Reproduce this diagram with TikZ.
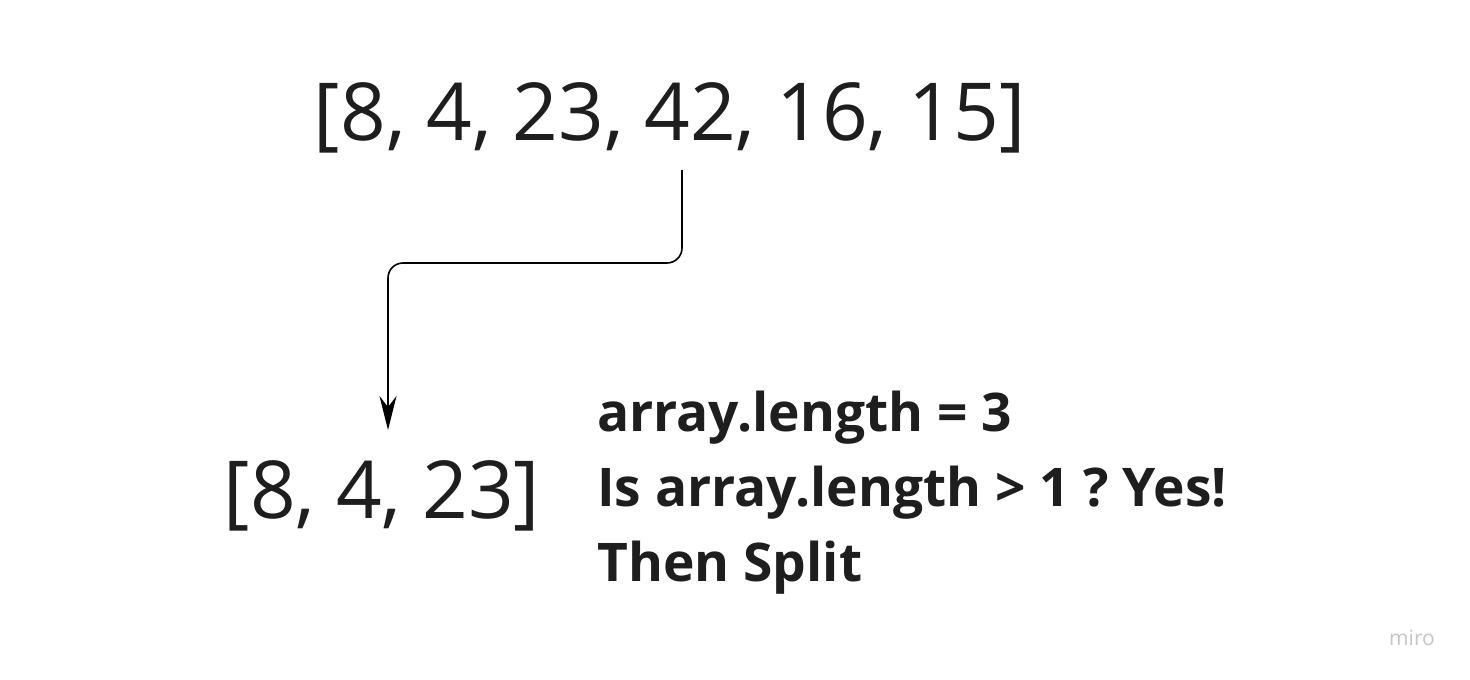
\documentclass[tikz,border=0pt]{standalone}
\usepackage{fontspec}
\setmainfont{Open Sans}
\usetikzlibrary{arrows.meta}
\definecolor{ink}{HTML}{1E1E1E}
\definecolor{mirogray}{HTML}{C4C4CC}
\frenchspacing
\begin{document}
\begin{tikzpicture}[x=1pt,y=-1pt,
  arr/.style={font=\fontsize{80}{80}\selectfont, text=ink, inner sep=0pt, anchor=base},
  info/.style={font=\fontsize{53.3}{53.3}\selectfont\bfseries, text=ink, inner sep=0pt, anchor=base west},
  conn/.style={draw=black, line width=1.6pt, rounded corners=15pt, -{Stealth[length=34pt,width=17pt]}}]
\useasboundingbox (0,0) rectangle (1470,680);
\node[arr] (top) at (670,140) {[8, 4, 23, 42, 16, 15]};
\node[arr] (bottom) at (382,518) {[8, 4, 23]};
\node[info] (l1) at (597,431) {array.length = 3};
\node[info] (l2) at (597,506) {Is array.length > 1 ? Yes!};
\node[info] (l3) at (597,581) {Then Split};
\node[font=\fontsize{21}{21}\selectfont, text=mirogray, inner sep=0pt, anchor=base west] (miro) at (1389,645) {miro};
\coordinate (s) at (682,170);
\coordinate (e) at (388,430);
\draw[conn] (s) -- (682,263) -- (388,263) -- (e);
\end{tikzpicture}
\end{document}
